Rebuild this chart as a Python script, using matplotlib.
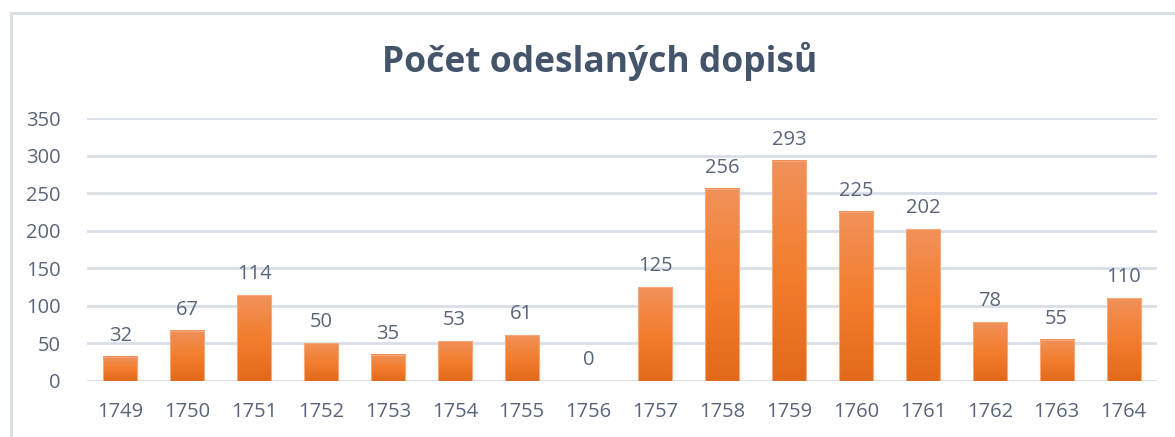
import matplotlib
matplotlib.use("Agg")
import matplotlib.pyplot as plt
import numpy as np
from matplotlib.patches import Rectangle
from matplotlib.colors import LinearSegmentedColormap

years = ["1749", "1750", "1751", "1752", "1753", "1754", "1755", "1756",
         "1757", "1758", "1759", "1760", "1761", "1762", "1763", "1764"]
counts = [32, 67, 114, 50, 35, 53, 61, 0, 125, 256, 293, 225, 202, 78, 55, 110]
yticks = [0, 50, 100, 150, 200, 250, 300, 350]
title = "Počet odeslaných dopisů"

W, H = 1175, 437
fig = plt.figure(figsize=(W / 100, H / 100), dpi=100)
fig.patch.set_facecolor("white")

# outer chart frame
fig.patches.append(Rectangle((11 / W, -0.05), 1.2, (H - 13) / H + 0.05,
                             transform=fig.transFigure, fill=False,
                             edgecolor="#D9DEE6", linewidth=2.2, zorder=0))

left, right = 87 / W, 1157 / W
bottom, top = (H - 381) / H, (H - 118) / H
ax = fig.add_axes([left, bottom, right - left, top - bottom])
ax.set_xlim(-0.5, len(years) - 0.5)
ax.set_ylim(0, 350)

text_col = "#596579"
fs = 14.5
ax.set_yticks(yticks)
ax.set_yticklabels([str(v) for v in yticks], fontsize=fs, color=text_col,
                   family="Open Sans")
ax.set_xticks(range(len(years)))
ax.set_xticklabels(years, fontsize=fs, color=text_col, family="Open Sans")
ax.tick_params(axis="both", length=0)
ax.tick_params(axis="y", pad=19)
ax.tick_params(axis="x", pad=15)
for s in ax.spines.values():
    s.set_visible(False)
ax.grid(axis="y", color="#D9DFE8", linewidth=2)
ax.set_axisbelow(True)

cmap = LinearSegmentedColormap.from_list("g", ["#E2691A", "#F37E2E", "#F0915A"])
grad = np.linspace(0, 1, 256).reshape(-1, 1)
bw = 0.51
for i, v in enumerate(counts):
    if v > 0:
        ax.imshow(grad, cmap=cmap, origin="lower", aspect="auto",
                  extent=(i - bw / 2, i + bw / 2, 0, v), zorder=2,
                  interpolation="bilinear")
        ax.add_patch(Rectangle((i - bw / 2, 0), bw, v, fill=False,
                               edgecolor="#F5A878", linewidth=0.8, zorder=3))
    ax.annotate(str(v), (i, v), xytext=(0, 8), textcoords="offset points",
                ha="center", va="bottom", fontsize=fs, color=text_col,
                family="Open Sans")
ax.set_xlim(-0.5, len(years) - 0.5)
ax.set_ylim(0, 350)

fig.text(600 / W, (H - 61) / H, title, ha="center", va="center", fontsize=25.5,
         fontweight="bold", color="#44546A", family="Open Sans")

fig.savefig("out.png", dpi=100)
